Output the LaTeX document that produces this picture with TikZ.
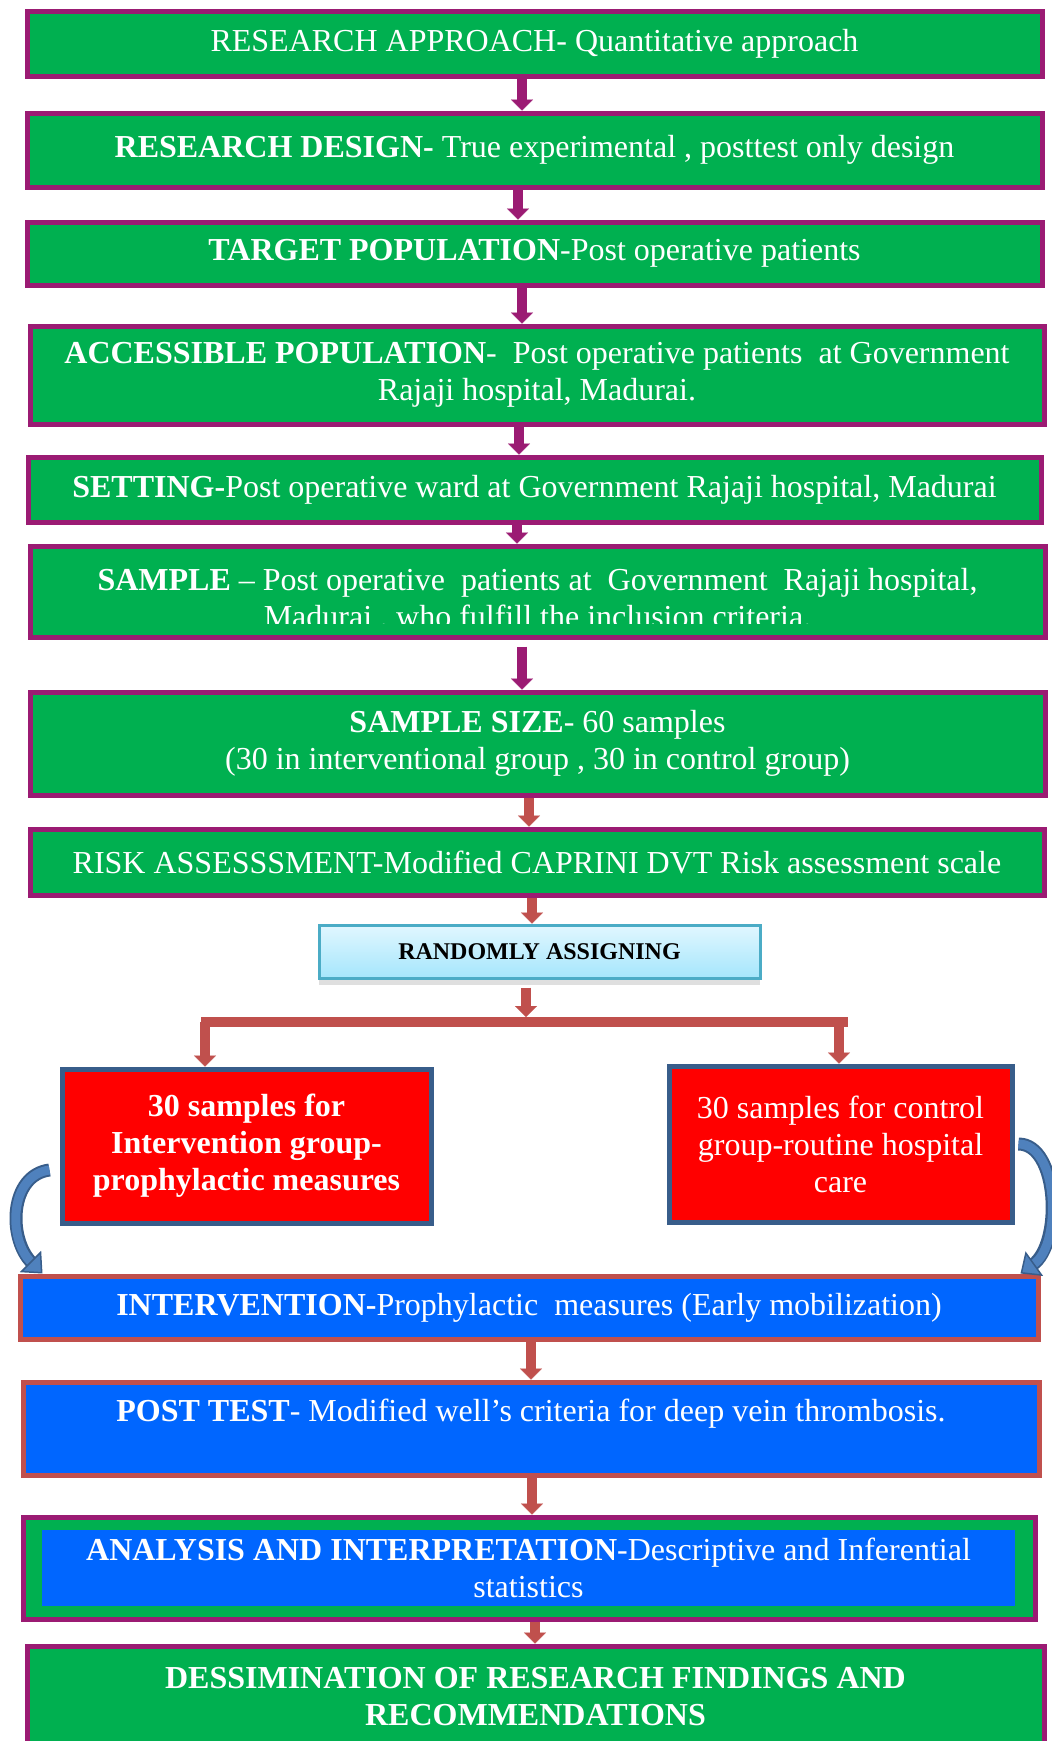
\documentclass[tikz,border=0pt]{standalone}
\usepackage{fontspec}
\setmainfont{Liberation Serif}
\usetikzlibrary{arrows.meta,shadows}
\definecolor{boxgreen}{RGB}{0,176,80}
\definecolor{edgepurple}{RGB}{155,27,115}
\definecolor{arrowred}{RGB}{192,80,77}
\definecolor{boxblue}{RGB}{0,102,255}
\definecolor{boxred}{RGB}{255,0,0}
\definecolor{edgeblue}{RGB}{56,93,138}
\definecolor{curveblue}{RGB}{79,129,189}
\definecolor{randedge}{RGB}{75,172,198}
\definecolor{randtop}{RGB}{225,247,255}
\definecolor{randbot}{RGB}{165,230,252}
\newcommand\flowfont{\fontsize{32}{37}\selectfont}
\begin{document}
\begin{tikzpicture}[x=1pt,y=-1pt,
  gbox/.style={draw=edgepurple, fill=boxgreen, line width=5pt, text=white, align=center, font=\flowfont},
  bbox/.style={draw=arrowred, fill=boxblue, line width=5pt, text=white, align=center, font=\flowfont},
  rbox/.style={draw=edgeblue, fill=boxred, line width=5pt, text=white, align=center, font=\flowfont},
  randbox/.style={draw=randedge, line width=3pt, top color=randtop, bottom color=randbot, align=center,
    font=\fontsize{24}{28}\selectfont\bfseries, drop shadow={shadow xshift=0pt, shadow yshift=-7pt, opacity=.25}},
  txt/.style={text=white, align=center, font=\flowfont},
  parrow/.style={draw=edgepurple, line width=10pt, -{Triangle[width=22pt,length=11pt,line width=0.1pt]}},
  rarrow/.style={draw=arrowred, line width=10pt, -{Triangle[width=22pt,length=11pt,line width=0.1pt]}},
  rline/.style={draw=arrowred, line width=10pt},
  carrow/.style={draw=curveblue, line width=9pt, -{Triangle[width=30pt,length=17pt,line width=1.5pt,fill=curveblue,color=edgeblue]},
    preaction={draw=edgeblue, line width=13pt, -, shorten >=15pt}}]
\clip (0,0) rectangle (1052,1741);
\node[gbox, minimum width=1015pt, minimum height=65pt] (approach) at (534.5,43.5) {RESEARCH APPROACH- Quantitative approach};
\node[gbox, minimum width=1015pt, minimum height=74pt] (design) at (534.5,150) {\textbf{RESEARCH DESIGN-} True experimental , posttest only design};
\node[gbox, minimum width=1015pt, minimum height=63pt] (target) at (534.5,253.5) {\textbf{TARGET POPULATION}-Post operative patients};
\node[gbox, minimum width=1014pt, minimum height=98pt] (access) at (537,375) {\textbf{ACCESSIBLE POPULATION}-\ \ Post operative patients\ \ at Government\\Rajaji hospital, Madurai.};
\node[gbox, minimum width=1013pt, minimum height=65pt] (setting) at (534.5,489.5) {\textbf{SETTING-}Post operative ward at Government Rajaji hospital, Madurai};
\node[gbox, minimum width=1015pt, minimum height=91pt] (sample) at (537.5,591.5) {};
\begin{scope}
\clip (sample.north west) rectangle ([yshift=16pt]sample.south east);
\node[txt] (sampletext) at (537.5,600) {\textbf{SAMPLE} -- Post operative\ \ patients at\ \ Government\ \ Rajaji hospital,\\Madurai , who fulfill the inclusion criteria.};
\end{scope}
\node[gbox, minimum width=1015pt, minimum height=103pt] (size) at (537.5,743.5) {\textbf{SAMPLE SIZE}- 60 samples\\(30 in interventional group , 30 in control group)};
\node[gbox, minimum width=1014pt, minimum height=66pt] (risk) at (537,862) {RISK ASSESSSMENT-Modified CAPRINI DVT Risk assessment scale};
\node[randbox, minimum width=441pt, minimum height=53pt] (random) at (539.5,951.5) {RANDOMLY ASSIGNING};
\coordinate (barL) at (201,1022);
\coordinate (barR) at (848,1022);
\coordinate (fork) at (526,1022);
\coordinate (dropL) at (205,1022);
\coordinate (dropR) at (839,1022);
\node[rbox, minimum width=369pt, minimum height=154pt, font=\flowfont\bfseries] (leftgroup) at (246.5,1146) {30 samples for\\Intervention group-\\prophylactic measures};
\node[rbox, minimum width=343pt, minimum height=156pt] (rightgroup) at (840.5,1144) {30 samples for control\\group-routine hospital\\care};
\node[bbox, minimum width=1018pt, minimum height=63pt] (interv) at (529,1307.5) {\textbf{INTERVENTION-}Prophylactic\ \ measures (Early mobilization)};
\node[bbox, minimum width=1016pt, minimum height=93pt] (posttest) at (531,1428.5) {\textbf{POST TEST}- Modified well’s criteria for deep vein thrombosis.\\\mbox{}};
\node[gbox, minimum width=1012pt, minimum height=102pt] (analysis) at (529,1568) {};
\node[txt, fill=boxblue, minimum width=973pt, minimum height=76pt] (analysistext) at (528.5,1568) {\textbf{ANALYSIS AND INTERPRETATION}-Descriptive and Inferential\\statistics};
\node[gbox, minimum width=1017pt, minimum height=102pt, font=\flowfont\bfseries] (dissem) at (535.5,1697) {DESSIMINATION OF RESEARCH FINDINGS AND\\RECOMMENDATIONS};
\draw[parrow] (approach.south -| 522,0) -- (design.north -| 522,0);
\draw[parrow] (design.south -| 518,0) -- (target.north -| 518,0);
\draw[parrow] (target.south -| 522,0) -- (access.north -| 522,0);
\draw[parrow] (access.south -| 519,0) -- (setting.north -| 519,0);
\draw[parrow] (setting.south -| 517,0) -- (sample.north -| 517,0);
\draw[parrow, shorten <=7pt] (sample.south -| 522,0) -- (size.north -| 522,0);
\draw[rarrow] (size.south -| 529,0) -- (risk.north -| 529,0);
\draw[rarrow] (risk.south -| 532,0) -- (random.north -| 532,0);
\draw[rarrow, shorten <=8pt, shorten >=5pt] (random.south -| 526,0) -- (fork);
\draw[rline] (barL) -- (barR);
\draw[rarrow] (dropL) -- (dropL |- leftgroup.north);
\draw[rarrow] (dropR) -- (dropR |- rightgroup.north);
\draw[carrow] ([shift={(-10pt,-24pt)}]leftgroup.west) .. controls +(-40,5) and +(-35,-35) .. ([xshift=25pt]interv.north west);
\draw[carrow] ([xshift=4pt]rightgroup.east) .. controls +(40,0) and +(42,-30) .. ([xshift=-20pt]interv.north east);
\draw[rarrow] (interv.south -| 531,0) -- (posttest.north -| 531,0);
\draw[rarrow] (posttest.south -| 532,0) -- (analysis.north -| 532,0);
\draw[rarrow] (analysis.south -| 535,0) -- (dissem.north -| 535,0);
\end{tikzpicture}
\end{document}
